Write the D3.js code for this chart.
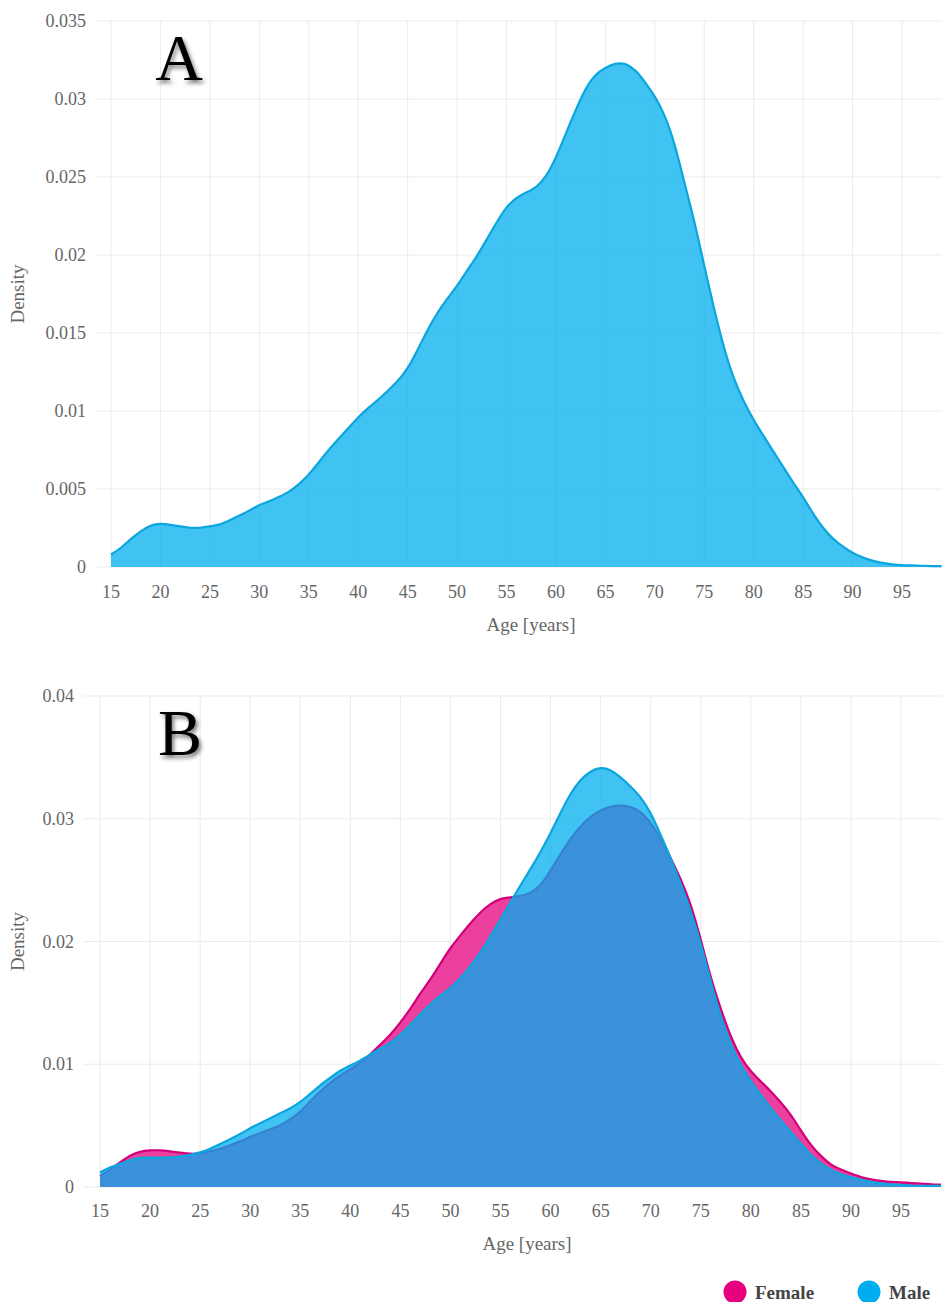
<!DOCTYPE html>
<html>
<head>
<meta charset="utf-8">
<script src="https://cdn.jsdelivr.net/npm/d3@7"></script>
<style>
  html, body { margin: 0; padding: 0; background: #fff; }
  svg { display: block; }
</style>
</head>
<body>
<svg id="chart" width="942" height="1302"></svg>
<script>
// ---------------- DATA ----------------
const ages = [15,16,17,18,19,20,21,22,23,24,25,26,27,28,29,30,31,32,33,34,35,36,37,38,39,40,41,42,43,44,45,46,47,48,49,50,51,52,53,54,55,56,57,58,59,60,61,62,63,64,65,66,67,68,69,70,71,72,73,74,75,76,77,78,79,80,81,82,83,84,85,86,87,88,89,90,91,92,93,94,95,96,97,98,99];

const overallDensity = [0.0008,0.0012,0.0018,0.0023,0.0027,0.0028,0.0027,0.0026,0.0025,0.0025,0.0026,0.0027,0.0030,0.0033,0.0036,0.0040,0.0042,0.0045,0.0048,0.0053,0.0059,0.0067,0.0075,0.0082,0.0089,0.0096,0.0102,0.0107,0.0113,0.0119,0.0127,0.0139,0.0152,0.0163,0.0172,0.0180,0.0190,0.0199,0.0210,0.0221,0.0231,0.0237,0.0240,0.0243,0.0250,0.0262,0.0278,0.0293,0.0307,0.0316,0.0320,0.0323,0.0323,0.0319,0.0311,0.0302,0.0290,0.0272,0.0246,0.0222,0.0193,0.0165,0.0140,0.0120,0.0106,0.0094,0.0084,0.0074,0.0064,0.0054,0.0045,0.0034,0.0025,0.0018,0.0013,0.0009,0.0006,0.0004,0.00025,0.00016,0.00012,0.0001,0.00008,0.00006,0.00005];

const femaleDensity = [0.0009,0.0014,0.0020,0.0026,0.0029,0.0030,0.0030,0.0029,0.0028,0.0027,0.0027,0.0029,0.0031,0.0034,0.0037,0.0041,0.0044,0.0047,0.0050,0.0055,0.0061,0.0070,0.0078,0.0085,0.0091,0.0096,0.0101,0.0108,0.0116,0.0124,0.0134,0.0145,0.0158,0.0169,0.0182,0.0195,0.0205,0.0215,0.0224,0.0231,0.0235,0.0236,0.0237,0.0239,0.0245,0.0258,0.0271,0.0284,0.0294,0.0302,0.0307,0.0310,0.0311,0.0310,0.0306,0.0297,0.0284,0.0268,0.0251,0.0231,0.0202,0.0170,0.0145,0.0122,0.0105,0.0094,0.0086,0.0078,0.0069,0.0059,0.0046,0.0034,0.0025,0.0018,0.0014,0.0011,0.0008,0.0006,0.0005,0.0004,0.0004,0.0003,0.0003,0.0002,0.0002];

const maleDensity = [0.0012,0.0016,0.0019,0.0022,0.0024,0.0024,0.0024,0.0024,0.0025,0.0026,0.0028,0.0031,0.0035,0.0039,0.0043,0.0048,0.0052,0.0056,0.0060,0.0064,0.0069,0.0076,0.0083,0.0089,0.0095,0.0099,0.0103,0.0108,0.0113,0.0117,0.0124,0.0132,0.0141,0.0149,0.0156,0.0162,0.0170,0.0180,0.0191,0.0204,0.0218,0.0232,0.0246,0.0259,0.0273,0.0288,0.0305,0.0321,0.0332,0.0339,0.0342,0.0340,0.0334,0.0326,0.0318,0.0305,0.0287,0.0268,0.0247,0.0225,0.0199,0.0167,0.0138,0.0116,0.0099,0.0086,0.0075,0.0064,0.0054,0.0045,0.0035,0.0026,0.0019,0.0014,0.0010,0.0008,0.0006,0.0004,0.0003,0.0002,0.0002,0.0001,0.0001,0.0001,0.0001];

const xTicks = [15,20,25,30,35,40,45,50,55,60,65,70,75,80,85,90,95];
const yTicksA = [0,0.005,0.01,0.015,0.02,0.025,0.03,0.035];
const yTicksB = [0,0.01,0.02,0.03,0.04];
const yTickLabelsA = ["0","0.005","0.01","0.015","0.02","0.025","0.03","0.035"];
const yTickLabelsB = ["0","0.01","0.02","0.03","0.04"];
const seriesNames = ["Female","Male"];
const seriesColors = ["#E6007E","#00AEEF"];
const panelLabels = ["A","B"];

// ---------------- DRAW ----------------
const svg = d3.select("#chart");
const FONT = "'Liberation Serif','Times New Roman',serif";
const defs = svg.append("defs");
const f = defs.append("filter").attr("id","shadow").attr("x","-30%").attr("y","-30%").attr("width","160%").attr("height","160%");
f.append("feDropShadow").attr("dx",2).attr("dy",3).attr("stdDeviation",2.2).attr("flood-color","#000").attr("flood-opacity",0.55);

function panel(cfg) {
  const g = svg.append("g");
  const x = d3.scaleLinear().domain([15,95]).range(cfg.xr);
  const y = d3.scaleLinear().domain([0, cfg.ymax]).range([cfg.y0, cfg.ytop]);

  // grid
  g.selectAll(".hg").data(cfg.yticks).enter().append("line")
    .attr("x1", cfg.left).attr("x2", 942)
    .attr("y1", d => y(d)).attr("y2", d => y(d))
    .attr("stroke", "#ebebeb").attr("stroke-width", 1);
  g.selectAll(".vg").data(xTicks).enter().append("line")
    .attr("x1", d => x(d)).attr("x2", d => x(d))
    .attr("y1", cfg.ytop).attr("y2", cfg.y0)
    .attr("stroke", "#ebebeb").attr("stroke-width", 1);

  // y tick labels
  g.selectAll(".yl").data(cfg.yticks).enter().append("text")
    .attr("x", cfg.ylabelRight).attr("y", d => y(d) + 6)
    .attr("text-anchor","end").attr("font-family",FONT).attr("font-size",18)
    .attr("fill","#666").text((d,i) => cfg.ylabels[i]);
  // x tick labels
  g.selectAll(".xl").data(xTicks).enter().append("text")
    .attr("x", d => x(d)).attr("y", cfg.xlabelY)
    .attr("text-anchor","middle").attr("font-family",FONT).attr("font-size",18)
    .attr("fill","#666").text(d => d);

  // titles
  g.append("text").attr("x", cfg.xtitleX).attr("y", cfg.xtitleY)
    .attr("text-anchor","middle").attr("font-family",FONT).attr("font-size",19)
    .attr("fill","#666").text("Age [years]");
  g.append("text")
    .attr("transform", `translate(24,${(cfg.y0+cfg.ytop)/2}) rotate(-90)`)
    .attr("text-anchor","middle").attr("font-family",FONT).attr("font-size",19)
    .attr("fill","#666").text("Density");

  // areas
  cfg.series.forEach(s => {
    const data = ages.map((a,i) => [a, s.values[i]]);
    const area = d3.area().x(d => x(d[0])).y0(y(0)).y1(d => y(d[1])).curve(d3.curveBasis);
    const line = d3.line().x(d => x(d[0])).y(d => y(d[1])).curve(d3.curveBasis);
    g.append("path").attr("d", area(data)).attr("fill", s.color).attr("fill-opacity", 0.75);
    g.append("path").attr("d", line(data)).attr("fill","none").attr("stroke", s.stroke).attr("stroke-width", 2.2);
  });

  // panel label
  g.append("text").attr("x", cfg.labelX).attr("y", cfg.labelY)
    .attr("text-anchor","middle").attr("font-family",FONT).attr("font-size",66)
    .attr("fill","#000").attr("filter","url(#shadow)").text(cfg.label);
}

panel({
  xr: [111, 902], left: 95, ymax: 0.035, y0: 567, ytop: 21,
  yticks: yTicksA, ylabels: yTickLabelsA, ylabelRight: 86,
  xlabelY: 598, xtitleX: 531, xtitleY: 631,
  label: panelLabels[0], labelX: 179, labelY: 80,
  series: [{values: overallDensity, color: seriesColors[1], stroke: "#0AA6DD"}]
});

panel({
  xr: [100, 901], left: 83, ymax: 0.04, y0: 1187, ytop: 696,
  yticks: yTicksB, ylabels: yTickLabelsB, ylabelRight: 74,
  xlabelY: 1217, xtitleX: 527, xtitleY: 1250,
  label: panelLabels[1], labelX: 180, labelY: 755,
  series: [
    {values: femaleDensity, color: seriesColors[0], stroke: "#D4007A"},
    {values: maleDensity, color: seriesColors[1], stroke: "#0AA6DD"}
  ]
});

// legend
const legendX = [735, 869];
const lg = svg.append("g");
seriesNames.forEach((n,i) => {
  lg.append("circle").attr("cx", legendX[i]).attr("cy", 1292).attr("r", 11.5).attr("fill", seriesColors[i]);
  lg.append("text").attr("x", legendX[i] + 20).attr("y", 1299)
    .attr("font-family",FONT).attr("font-size",19).attr("font-weight","bold")
    .attr("fill","#444").text(n);
});
</script>
</body>
</html>
